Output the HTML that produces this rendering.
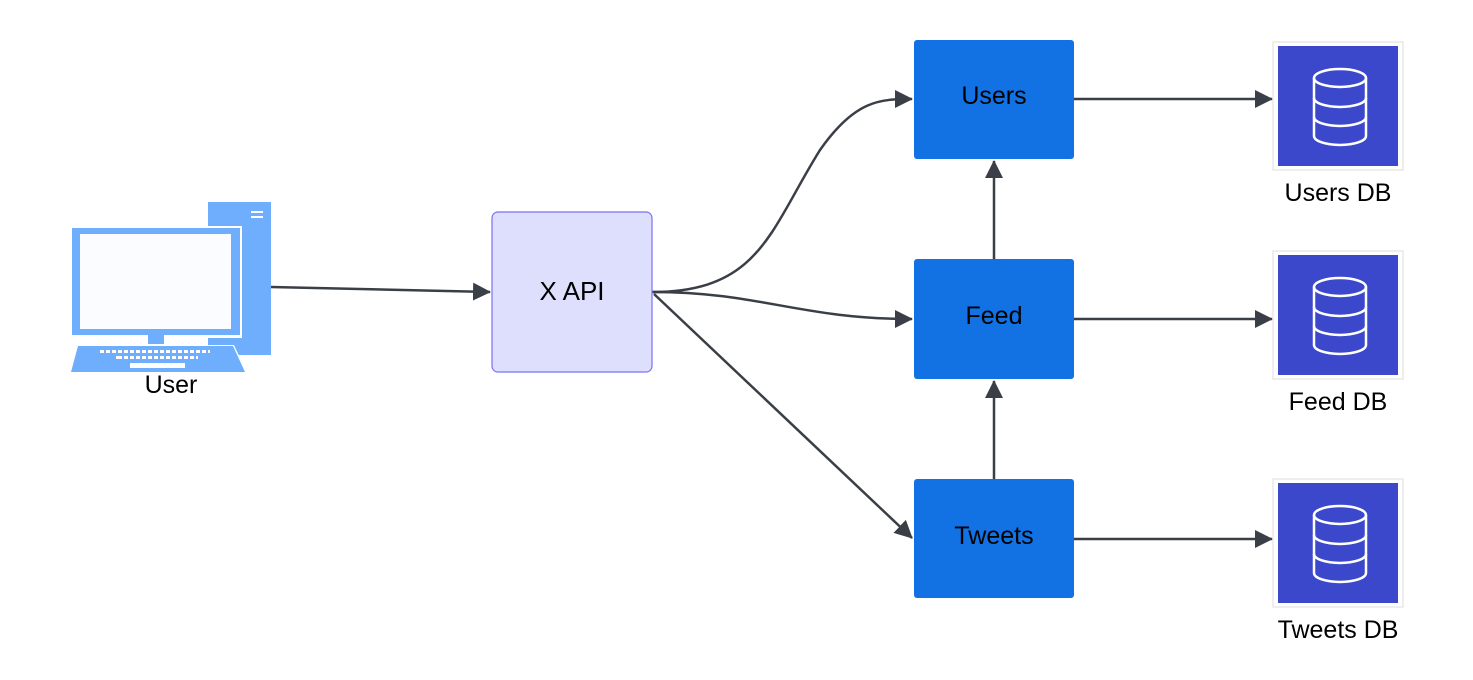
<!DOCTYPE html>
<html><head><meta charset="utf-8"><style>
html,body{margin:0;padding:0;background:#fff;}
svg{display:block;}
text{font-family:"Liberation Sans",Arial,sans-serif;fill:#000;}
</style></head><body>
<svg width="1473" height="680" viewBox="0 0 1473 680" xmlns="http://www.w3.org/2000/svg">
<defs>
<marker id="b" markerWidth="18" markerHeight="18" refX="17" refY="9" orient="auto" markerUnits="userSpaceOnUse">
<path d="M0,0 L18,9 L0,18 z" fill="#3a3f47"/>
</marker>
<g id="db">
<rect x="-67" y="-64" width="130" height="128" fill="#fff" stroke="#ddd" stroke-width="1"/>
<rect x="-62" y="-60" width="120" height="120" fill="#3b48cc"/>
<g fill="none" stroke="#fff" stroke-width="2.5">
<ellipse cx="0" cy="-28" rx="26" ry="9"/>
<path d="M-26,-28 V30 A26,9 0 0 0 26,30 V-28"/>
<path d="M-26,-8 A26,9 0 0 0 26,-8"/>
<path d="M-26,11 A26,9 0 0 0 26,11"/>
</g>
</g>
</defs>

<!-- computer -->
<rect x="208" y="202" width="63" height="153" fill="#6eaefd"/>
<rect x="251" y="211" width="12" height="2" fill="#fff"/>
<rect x="251" y="216" width="12" height="2" fill="#fff"/>
<rect x="70" y="226" width="172" height="112" fill="#fff"/>
<rect x="72" y="228" width="168" height="107" fill="#6eaefd"/>
<rect x="80" y="234" width="151" height="95" fill="#fbfcff"/>
<rect x="148" y="335" width="16" height="9" fill="#6eaefd"/>
<path d="M76,345 L234,345 L247,373 L70,373 Z" fill="#fff"/>
<path d="M78,346 L233,346 L245,372 L71,372 Z" fill="#6eaefd"/>
<g fill="#fff">
<rect x="100" y="350" width="110" height="3"/>
<rect x="116" y="356" width="82" height="3"/>
<rect x="130" y="363" width="55" height="5"/>
</g>
<g stroke="#6eaefd" stroke-width="2">
<path d="M105,349 V357 M111,349 V354 M117,349 V354 M123,349 V360 M129,349 V360 M135,349 V360 M141,349 V360 M147,349 V360 M153,349 V360 M159,349 V360 M165,349 V360 M171,349 V360 M177,349 V360 M183,349 V360 M189,349 V360 M195,349 V360 M201,349 V354 M207,349 V354"/>
</g>
<text x="171" y="393" font-size="25" text-anchor="middle">User</text>

<!-- edges -->
<g fill="none" stroke="#3a3f47" stroke-width="2.5">
<path d="M271,287 L490,292" marker-end="url(#b)"/>
<path d="M652,292 C760,292 770,230 820,150 C855,100 880,99 912,99" marker-end="url(#b)"/>
<path d="M652,292 C760,292 800,319 912,319" marker-end="url(#b)"/>
<path d="M654,294 L912,538" marker-end="url(#b)"/>
<path d="M994,259 L994,161" marker-end="url(#b)"/>
<path d="M994,479 L994,381" marker-end="url(#b)"/>
<path d="M1074,99 L1272,99" marker-end="url(#b)"/>
<path d="M1074,319 L1272,319" marker-end="url(#b)"/>
<path d="M1074,539 L1272,539" marker-end="url(#b)"/>
</g>

<!-- X API -->
<rect x="492" y="212" width="160" height="160" rx="6" fill="#dedffd" stroke="#7b70f5" stroke-width="1.2"/>
<text x="572" y="300" font-size="26" text-anchor="middle">X API</text>

<!-- services -->
<rect x="914" y="40" width="160" height="119" rx="3" fill="#1271e3"/>
<text x="994" y="104" font-size="25" text-anchor="middle">Users</text>
<rect x="914" y="259" width="160" height="120" rx="3" fill="#1271e3"/>
<text x="994" y="324" font-size="25" text-anchor="middle">Feed</text>
<rect x="914" y="479" width="160" height="119" rx="3" fill="#1271e3"/>
<text x="994" y="544" font-size="25" text-anchor="middle">Tweets</text>

<!-- DBs -->
<use href="#db" x="1340" y="106"/>
<text x="1338" y="201" font-size="25" text-anchor="middle">Users DB</text>
<use href="#db" x="1340" y="315"/>
<text x="1338" y="410" font-size="25" text-anchor="middle">Feed DB</text>
<use href="#db" x="1340" y="543"/>
<text x="1338" y="638" font-size="25" text-anchor="middle">Tweets DB</text>
</svg>
</body></html>
